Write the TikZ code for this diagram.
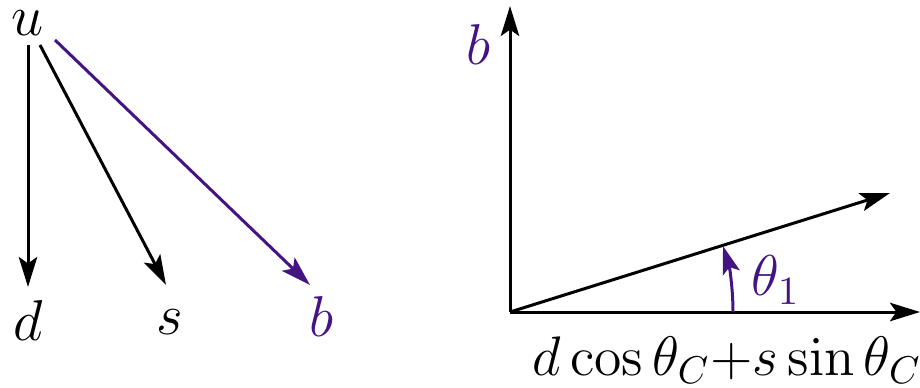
\documentclass[tikz,border=0pt]{standalone}
\usetikzlibrary{arrows.meta}
\definecolor{qpurple}{RGB}{68,20,130}
\tikzset{
  arr/.style={line width=0.75pt,-{Stealth[length=7.5pt,width=4.6pt,inset=1.6pt]}},
  lbl/.style={inner sep=0pt,font=\Large},
}
\begin{document}
\begin{tikzpicture}[x=0.25pt,y=-0.25pt]
\useasboundingbox (0,0) rectangle (920,387);
% left diagram
\node[lbl] (u) at (28,23) {$u$};
\node[lbl] (d) at (28,320) {$d$};
\node[lbl] (s) at (170,322) {$s$};
\node[lbl,text=qpurple] (b) at (321,316) {$b$};
\coordinate (ud) at (28,45);
\coordinate (us) at (40,45);
\coordinate (ub) at (55,40);
\coordinate (de) at (28,287);
\coordinate (se) at (166,285);
\coordinate (be) at (310,285);
\draw[arr] (ud) -- (de);
\draw[arr] (us) -- (se);
\draw[arr,qpurple] (ub) -- (be);
% right diagram
\coordinate (o) at (510,312);
\coordinate (ytop) at (510,6);
\coordinate (xend) at (920,312);
\coordinate (vend) at (890,193);
\draw[arr] (o) -- (ytop);
\draw[arr] (o) -- (xend);
\draw[arr] (o) -- (vend);
\node[lbl,text=qpurple] (by) at (478,44) {$b$};
\draw[arr,qpurple,-{Stealth[length=7pt,width=4.4pt,inset=1.5pt]}] (733,312) arc[start angle=0,end angle=-17.2,radius=223];
\node[lbl,text=qpurple] (th) at (776,280) {$\theta_1$};
\node[lbl,scale=0.967] (comb) at (727,360) {$d\cos\theta_C{+}s\sin\theta_C$};
\end{tikzpicture}
\end{document}
